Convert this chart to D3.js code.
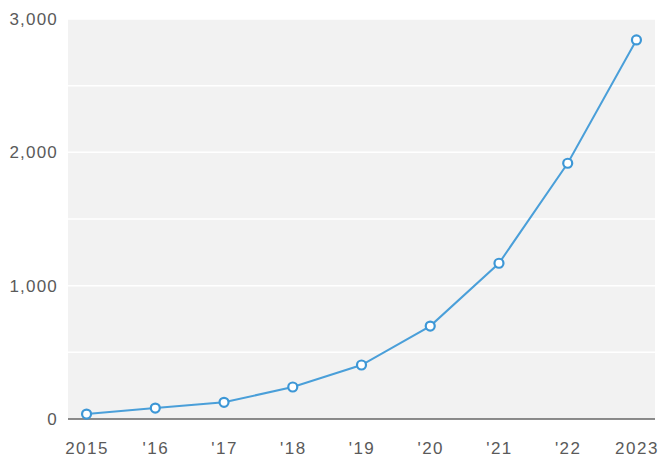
<!DOCTYPE html>
<html>
<head>
<meta charset="utf-8">
<script src="https://cdn.jsdelivr.net/npm/d3@7"></script>
<style>
  body { margin: 0; background: #fff; }
  text { font-family: "Liberation Sans", Arial, sans-serif; }
</style>
</head>
<body>
<script>
var width = 662,
    height = 457,
    margin = { top: 19, right: 7, bottom: 38, left: 68 };

var years = ['2015', "'16", "'17", "'18", "'19", "'20", "'21", "'22", '2023'];
var values = [37, 82, 125, 240, 405, 697, 1168, 1918, 2843];
var gridTicks = [500, 1000, 1500, 2000, 2500, 3000];
var labelTicks = [0, 1000, 2000, 3000];

var svg = d3.select('body').append('svg')
    .attr('width', width)
    .attr('height', height);

var x = d3.scalePoint()
    .domain(years)
    .range([margin.left, width - margin.right])
    .padding(0.27);

var y = d3.scaleLinear()
    .domain([0, 3000])
    .range([height - margin.bottom, margin.top]);

// plot background
svg.append('rect')
    .attr('x', margin.left)
    .attr('y', margin.top)
    .attr('width', width - margin.left - margin.right)
    .attr('height', height - margin.top - margin.bottom)
    .attr('fill', '#f2f2f2');

// white gridlines
svg.selectAll('.grid')
    .data(gridTicks)
    .enter().append('line')
    .attr('x1', margin.left)
    .attr('x2', width - margin.right)
    .attr('y1', d => y(d))
    .attr('y2', d => y(d))
    .attr('stroke', '#fff')
    .attr('stroke-width', 1.5);

// y labels
svg.append('g')
    .attr('transform', 'translate(' + margin.left + ',0)')
    .call(d3.axisLeft(y).tickValues(labelTicks).tickSize(0).tickPadding(10)
        .tickFormat(d3.format(',')))
    .call(g => g.select('.domain').remove())
    .selectAll('text')
    .attr('fill', '#5a5a5a')
    .style('font-size', '17px')
    .style('letter-spacing', '1.2px');

// x axis
svg.append('g')
    .attr('transform', 'translate(0,' + (height - margin.bottom) + ')')
    .call(d3.axisBottom(x).tickSize(0).tickPadding(23))
    .call(g => g.select('.domain').attr('stroke', '#666').attr('stroke-width', 1.5)
        .attr('d', 'M' + margin.left + ',0H' + (width - margin.right)))
    .selectAll('text')
    .attr('fill', '#5a5a5a')
    .style('font-size', '17px')
    .style('letter-spacing', '1.5px');

var line = d3.line()
    .x((d, i) => x(years[i]))
    .y(d => y(d));

svg.append('path')
    .datum(values)
    .attr('d', line)
    .attr('fill', 'none')
    .attr('stroke', '#4a9fd9')
    .attr('stroke-width', 2);

svg.selectAll('.pt')
    .data(values)
    .enter().append('circle')
    .attr('cx', (d, i) => x(years[i]))
    .attr('cy', d => y(d))
    .attr('r', 4.5)
    .attr('fill', '#fff')
    .attr('stroke', '#3d97d6')
    .attr('stroke-width', 2.2);
</script>
</body>
</html>
